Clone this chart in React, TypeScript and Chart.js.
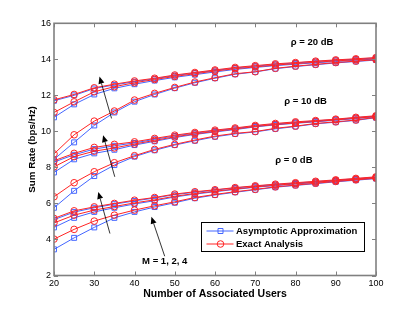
import React, { useEffect, useRef } from "react";
import { Chart, registerables } from "chart.js";

Chart.register(...registerables);

const users = [20, 25, 30, 35, 40, 45, 50, 55, 60, 65, 70, 75, 80, 85, 90, 95, 100];
const xTicks = [20, 30, 40, 50, 60, 70, 80, 90, 100];
const yTicks = [2, 4, 6, 8, 10, 12, 14, 16];

// rho = 0 dB
const rho0M4Exact = [5.17, 5.59, 5.81, 6.0, 6.18, 6.33, 6.52, 6.65, 6.76, 6.88, 6.98, 7.07, 7.15, 7.23, 7.31, 7.39, 7.48];
const rho0M4Approx = [5.1, 5.52, 5.76, 5.96, 6.14, 6.3, 6.49, 6.62, 6.74, 6.86, 6.96, 7.05, 7.13, 7.21, 7.29, 7.37, 7.46];
const rho0M2Exact = [4.92, 5.35, 5.63, 5.83, 6.03, 6.2, 6.4, 6.55, 6.68, 6.8, 6.92, 7.01, 7.1, 7.18, 7.27, 7.35, 7.44];
const rho0M2Approx = [4.67, 5.2, 5.53, 5.76, 5.97, 6.15, 6.36, 6.52, 6.65, 6.78, 6.9, 6.99, 7.08, 7.16, 7.25, 7.33, 7.42];
const rho0M1Exact = [4.02, 4.56, 5.02, 5.35, 5.63, 5.87, 6.09, 6.33, 6.5, 6.65, 6.78, 6.92, 7.02, 7.12, 7.22, 7.31, 7.4];
const rho0M1Approx = [3.45, 4.09, 4.67, 5.2, 5.53, 5.8, 6.04, 6.29, 6.47, 6.62, 6.76, 6.9, 7.0, 7.1, 7.2, 7.29, 7.38];

// rho = 10 dB
const rho10M4Exact = [8.37, 8.78, 9.11, 9.28, 9.42, 9.61, 9.79, 9.94, 10.07, 10.19, 10.33, 10.44, 10.53, 10.6, 10.68, 10.78, 10.87];
const rho10M4Approx = [8.3, 8.7, 9.02, 9.2, 9.36, 9.56, 9.75, 9.9, 10.04, 10.16, 10.3, 10.41, 10.5, 10.58, 10.66, 10.76, 10.85];
const rho10M2Exact = [8.03, 8.6, 8.9, 9.08, 9.3, 9.5, 9.7, 9.86, 10.0, 10.13, 10.27, 10.38, 10.47, 10.55, 10.64, 10.73, 10.83];
const rho10M2Approx = [7.72, 8.45, 8.78, 8.98, 9.24, 9.45, 9.66, 9.83, 9.97, 10.1, 10.25, 10.36, 10.45, 10.53, 10.62, 10.71, 10.81];
const rho10M1Exact = [6.37, 7.15, 7.76, 8.26, 8.65, 9.0, 9.28, 9.52, 9.74, 9.89, 9.99, 10.17, 10.29, 10.44, 10.53, 10.63, 10.78];
const rho10M1Approx = [5.76, 6.7, 7.52, 8.13, 8.6, 8.95, 9.24, 9.48, 9.7, 9.86, 9.97, 10.14, 10.27, 10.42, 10.51, 10.61, 10.76];

// rho = 20 dB
const rho20M4Exact = [11.75, 12.05, 12.42, 12.62, 12.8, 12.95, 13.13, 13.27, 13.41, 13.55, 13.65, 13.75, 13.82, 13.9, 13.97, 14.03, 14.1];
const rho20M4Approx = [11.7, 12.0, 12.38, 12.58, 12.76, 12.92, 13.1, 13.24, 13.38, 13.52, 13.62, 13.72, 13.8, 13.88, 13.95, 14.01, 14.08];
const rho20M2Exact = [11.05, 11.64, 12.2, 12.48, 12.7, 12.88, 13.05, 13.2, 13.35, 13.48, 13.58, 13.68, 13.76, 13.84, 13.91, 13.98, 14.04];
const rho20M2Approx = [10.78, 11.5, 12.05, 12.39, 12.62, 12.82, 13.0, 13.15, 13.3, 13.44, 13.55, 13.65, 13.73, 13.81, 13.88, 13.95, 14.02];
const rho20M1Exact = [8.75, 9.81, 10.57, 11.13, 11.74, 12.11, 12.44, 12.74, 12.98, 13.2, 13.31, 13.5, 13.62, 13.72, 13.82, 13.9, 13.98];
const rho20M1Approx = [8.45, 9.39, 10.33, 11.05, 11.65, 12.05, 12.4, 12.7, 12.95, 13.17, 13.3, 13.48, 13.6, 13.7, 13.8, 13.88, 13.96];

const exactSeries = [rho0M4Exact, rho0M2Exact, rho0M1Exact, rho10M4Exact, rho10M2Exact, rho10M1Exact, rho20M4Exact, rho20M2Exact, rho20M1Exact];
const approxSeries = [rho0M4Approx, rho0M2Approx, rho0M1Approx, rho10M4Approx, rho10M2Approx, rho10M1Approx, rho20M4Approx, rho20M2Approx, rho20M1Approx];

const legendLabels = ["Asymptotic Approximation", "Exact Analysis"];
const xTitle = "Number of Associated Users";
const yTitle = "Sum Rate (bps/Hz)";

// annotations in data coordinates
const textNotes = [
  { text: "ρ = 20 dB", x: 84.1, y: 14.94 },
  { text: "ρ = 10 dB", x: 82.5, y: 11.64 },
  { text: "ρ = 0 dB", x: 79.6, y: 8.4 },
  { text: "M = 1, 2, 4", x: 47.5, y: 2.79 },
];
const arrowNotes = [
  { fromX: 34.3, fromY: 10.72, toX: 31.3, toY: 13.04 },
  { fromX: 35.1, fromY: 7.48, toX: 32.2, toY: 9.79 },
  { fromX: 33.9, fromY: 4.33, toX: 31.0, toY: 6.64 },
  { fromX: 47.5, fromY: 3.07, toX: 44.2, toY: 5.26 },
];

const BLUE = "#4466ff";
const RED = "#ff2424";
const FRAME = "#808080";
const FONT = "'Liberation Sans', Arial, Helvetica, sans-serif";

const decorPlugin = {
  id: "decor",
  afterDraw(chart: any) {
    const { ctx, chartArea: a, scales } = chart;
    const xs = scales.x;
    const ys = scales.y;
    ctx.save();
    // frame
    ctx.strokeStyle = FRAME;
    ctx.lineWidth = 1.6;
    ctx.strokeRect(a.left, a.top, a.right - a.left, a.bottom - a.top);
    // inward ticks
    ctx.lineWidth = 1;
    const tl = 4;
    ctx.beginPath();
    xTicks.forEach((v) => {
      const px = Math.round(xs.getPixelForValue(v)) + 0.5;
      ctx.moveTo(px, a.bottom);
      ctx.lineTo(px, a.bottom - tl);
      ctx.moveTo(px, a.top);
      ctx.lineTo(px, a.top + tl);
    });
    yTicks.forEach((v) => {
      const py = Math.round(ys.getPixelForValue(v)) + 0.5;
      ctx.moveTo(a.left, py);
      ctx.lineTo(a.left + tl, py);
      ctx.moveTo(a.right, py);
      ctx.lineTo(a.right - tl, py);
    });
    ctx.stroke();

    // axis titles
    ctx.fillStyle = "#000";
    ctx.font = `bold 10.5px ${FONT}`;
    ctx.textAlign = "center";
    ctx.textBaseline = "middle";
    ctx.fillText(xTitle, (a.left + a.right) / 2, a.bottom + 19);
    ctx.save();
    ctx.translate(32, (a.top + a.bottom) / 2);
    ctx.rotate(-Math.PI / 2);
    ctx.font = `bold 9.8px ${FONT}`;
    ctx.fillText(yTitle, 0, 0);
    ctx.restore();

    // text annotations
    ctx.font = `bold 9.5px ${FONT}`;
    textNotes.forEach((n) => {
      ctx.fillText(n.text, xs.getPixelForValue(n.x), ys.getPixelForValue(n.y));
    });

    // arrows
    ctx.strokeStyle = "#000";
    ctx.fillStyle = "#000";
    ctx.lineWidth = 0.8;
    arrowNotes.forEach((ar) => {
      const x0 = xs.getPixelForValue(ar.fromX);
      const y0 = ys.getPixelForValue(ar.fromY);
      const x1 = xs.getPixelForValue(ar.toX);
      const y1 = ys.getPixelForValue(ar.toY);
      const ang = Math.atan2(y1 - y0, x1 - x0);
      const hl = 7;
      const hw = 3;
      const bx = x1 - hl * Math.cos(ang);
      const by = y1 - hl * Math.sin(ang);
      ctx.beginPath();
      ctx.moveTo(x0, y0);
      ctx.lineTo(bx, by);
      ctx.stroke();
      ctx.beginPath();
      ctx.moveTo(x1, y1);
      ctx.lineTo(bx + hw * Math.sin(ang), by - hw * Math.cos(ang));
      ctx.lineTo(bx - hw * Math.sin(ang), by + hw * Math.cos(ang));
      ctx.closePath();
      ctx.fill();
    });

    // legend box
    const lx = 201.5, ly = 222.5, lw = 163, lh = 29;
    ctx.fillStyle = "#fff";
    ctx.fillRect(lx, ly, lw, lh);
    ctx.strokeStyle = "#000";
    ctx.lineWidth = 1;
    ctx.strokeRect(lx, ly, lw, lh);
    const rows = [ly + 8.5, ly + 21.5];
    const colors = [BLUE, RED];
    rows.forEach((ry, i) => {
      ctx.strokeStyle = colors[i];
      ctx.lineWidth = 1;
      ctx.beginPath();
      ctx.moveTo(lx + 5, ry);
      ctx.lineTo(lx + 32, ry);
      ctx.stroke();
      const mx = lx + 19;
      ctx.beginPath();
      if (i === 0) {
        ctx.rect(mx - 2.5, ry - 2.5, 5, 5);
      } else {
        ctx.arc(mx, ry, 3.3, 0, Math.PI * 2);
      }
      ctx.stroke();
      ctx.fillStyle = "#000";
      ctx.font = `bold 9.5px ${FONT}`;
      ctx.textAlign = "left";
      ctx.textBaseline = "middle";
      ctx.fillText(legendLabels[i], lx + 34.5, ry + 0.5);
    });
    ctx.restore();
  },
};

export default function App() {
  const ref = useRef<HTMLCanvasElement | null>(null);
  useEffect(() => {
    document.body.style.margin = "0";
    const canvas = ref.current;
    if (!canvas) return;
    const datasets: any[] = [];
    exactSeries.forEach((s) => {
      datasets.push({
        data: s,
        borderColor: RED,
        borderWidth: 1,
        pointStyle: "circle",
        pointRadius: 3.3,
        pointBorderWidth: 1,
        pointBorderColor: RED,
        pointBackgroundColor: "rgba(0,0,0,0)",
        fill: false,
        tension: 0,
      });
    });
    approxSeries.forEach((s) => {
      datasets.push({
        data: s,
        borderColor: BLUE,
        borderWidth: 1,
        pointStyle: "rect",
        pointRadius: 3.5,
        pointBorderWidth: 1,
        pointBorderColor: BLUE,
        pointBackgroundColor: "rgba(0,0,0,0)",
        fill: false,
        tension: 0,
      });
    });
    const chart = new Chart(canvas, {
      type: "line",
      data: { labels: users, datasets },
      options: {
        animation: false,
        responsive: false,
        devicePixelRatio: 1,
        parsing: true,
        layout: { padding: { left: 0, top: 23.3, right: 39, bottom: 0 } },
        plugins: { legend: { display: false }, tooltip: { enabled: false } },
        scales: {
          x: {
            type: "linear",
            min: 20,
            max: 100,
            afterBuildTicks: (s: any) => {
              s.ticks = xTicks.map((v) => ({ value: v }));
            },
            afterFit: (s: any) => {
              s.height = 34.5;
            },
            grid: { display: false, drawTicks: false },
            border: { display: false },
            ticks: { color: "#000", padding: 3, font: { family: FONT, size: 9 }, maxRotation: 0 },
          },
          y: {
            type: "linear",
            min: 2,
            max: 16,
            afterBuildTicks: (s: any) => {
              s.ticks = yTicks.map((v) => ({ value: v }));
            },
            afterFit: (s: any) => {
              s.width = 54;
            },
            grid: { display: false, drawTicks: false },
            border: { display: false },
            ticks: { color: "#000", padding: 3, font: { family: FONT, size: 9 } },
          },
        },
      },
      plugins: [decorPlugin],
    });
    return () => chart.destroy();
  }, []);
  return (
    <div style={{ width: 415, height: 310 }}>
      <canvas ref={ref} width={415} height={310} />
    </div>
  );
}
